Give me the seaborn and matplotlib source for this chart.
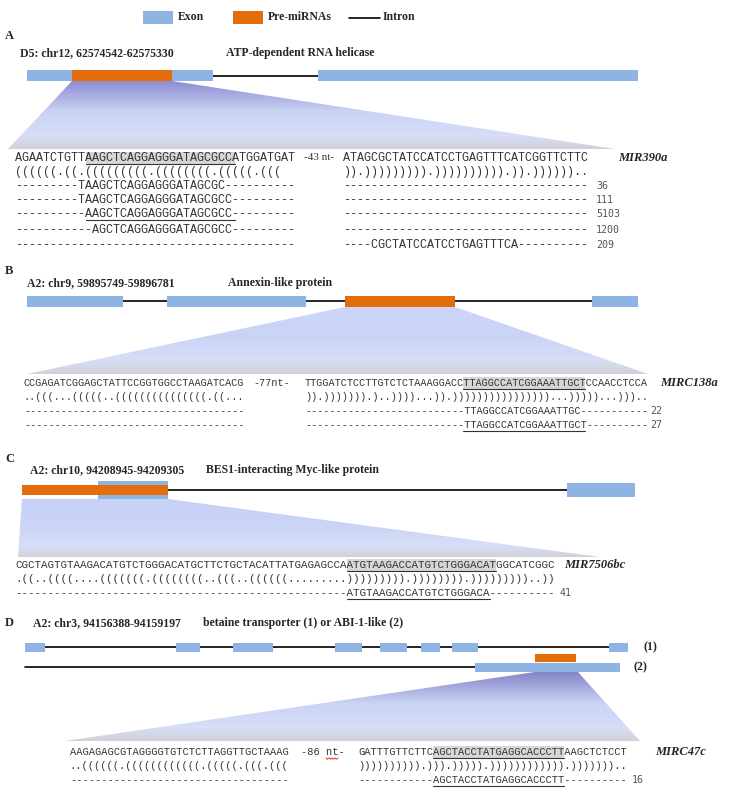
import numpy as np
import matplotlib
matplotlib.use("Agg")
import matplotlib.pyplot as plt
import seaborn as sns
from matplotlib.patches import Rectangle, Polygon
from matplotlib.colors import LinearSegmentedColormap

# ---------------- data ----------------
legend_labels = ["Exon", "Pre-miRNAs", "Intron"]

# panel A
a_title = "D5: chr12, 62574542-62575330"
a_gene = "ATP-dependent RNA helicase"
a_exons = [(27, 213), (318, 638)]
a_pre = [(72, 172)]
a_introns = [(213, 318)]
a_left = ["AGAATCTGTTAAGCTCAGGAGGGATAGCGCCATGGATGAT",
          "((((((.((.(((((((((.((((((((.(((((.(((",
          "---------TAAGCTCAGGAGGGATAGCGC----------",
          "---------TAAGCTCAGGAGGGATAGCGCC---------",
          "----------AAGCTCAGGAGGGATAGCGCC---------",
          "-----------AGCTCAGGAGGGATAGCGCC---------",
          "-" * 40]
a_right = ["ATAGCGCTATCCATCCTGAGTTTCATCGGTTCTTC",
           ")).)))))))))" ".))))))))))" ".))" ".))))))" "..",
           "-" * 35, "-" * 35, "-" * 35, "-" * 35,
           "----CGCTATCCATCCTGAGTTTCA----------"]
a_counts = ["", "", "36", "111", "5103", "1200", "209"]
a_gap = "-43 nt-"
a_name = "MIR390a"

# panel B
b_title = "A2: chr9, 59895749-59896781"
b_gene = "Annexin-like protein"
b_exons = [(27, 123), (167, 306), (592, 638)]
b_pre = [(345, 455)]
b_introns = [(123, 167), (306, 345), (455, 592)]
b_left = ["CCGAGATCGGAGCTATTCCGGTGGCCTAAGATCACG",
          "..(((...(((((..(((((((((((((((.((...",
          "-" * 36, "-" * 36]
b_right = ["TTGGATCTCCTTGTCTCTAAAGGACCTTAGGCCATCGGAAATTGCTCCAACCTCCA",
           ")).)))))))" ".)..))))...))." "))))))))))))))))" "...)))))" "...)))..",
           "--------------------------TTAGGCCATCGGAAATTGC-----------",
           "--------------------------TTAGGCCATCGGAAATTGCT----------"]
b_counts = ["", "", "22", "27"]
b_gap = "-77nt-"
b_name = "MIRC138a"

# panel C
c_title = "A2: chr10, 94208945-94209305"
c_gene = "BES1-interacting Myc-like protein"
c_exons = [(98, 168), (567, 635)]
c_pre = [(22, 168)]
c_introns = [(168, 567)]
c_rows = ["CGCTAGTGTAAGACATGTCTGGGACATGCTTCTGCTACATTATGAGAGCCAATGTAAGACCATGTCTGGGACATGGCATCGGC",
          ".((..((((....(((((((.((((((((..(((..((((((........"
          ".)))))))))" ".))))))))" ".)))))))))" "..))",
          "-" * 51 + "ATGTAAGACCATGTCTGGGACA" + "-" * 10]
c_counts = ["", "", "41"]
c_name = "MIR7506bc"

# panel D
d_title = "A2: chr3, 94156388-94159197"
d_gene = "betaine transporter (1) or ABI-1-like (2)"
d1_exons = [(25, 45), (176, 200), (233, 273), (335, 362), (380, 407),
            (421, 440), (452, 478), (609, 628)]
d1_introns = [(45, 609)]
d2_exons = [(475, 620)]
d2_introns = [(25, 475)]
d_pre = [(535, 576)]
d_left = ["AAGAGAGCGTAGGGGTGTCTCTTAGGTTGCTAAAG",
          "..((((((.((((((((((((.(((((.(((.(((",
          "-" * 35]
d_right = ["GATTTGTTCTTCAGCTACCTATGAGGCACCCTTAAGCTCTCCT",
           "))))))))))" ".)))" ".)))))" ".))))))))))))" ".)))))))" "..",
           "------------AGCTACCTATGAGGCACCCTT----------"]
d_counts = ["", "", "16"]
d_gap = "-86 nt-"
d_name = "MIRC47c"

# ---------------- style ----------------
sns.set_theme(style="white")
plt.rcParams["font.family"] = ["Liberation Serif", "DejaVu Serif"]

BLUE = "#8db4e2"
ORANGE = "#e46c0a"
MONO = "Liberation Mono"
SEQ_COL = "#333333"
HEAD_FS = 8.5

fig = plt.figure(figsize=(7.5, 7.98), dpi=100)
ax = fig.add_axes([0, 0, 1, 1])


def cw(fs):
    return 0.6 * fs * 100 / 72


def intron_lines(segs, y):
    for x0, x1 in segs:
        sns.lineplot(x=[x0, x1], y=[y, y], color="black", linewidth=1.2,
                     ax=ax, legend=False)


def blocks(segs, y, h, color, z=3):
    ax.broken_barh([(x0, x1 - x0) for x0, x1 in segs], (y - h / 2, h),
                   facecolors=color, edgecolors="none", zorder=z)


def funnel(top, bottom, y0, y1, top_col):
    cmap = LinearSegmentedColormap.from_list(
        "f", [(0, top_col), (0.45, (0.79, 0.83, 0.96)),
              (0.8, (0.84, 0.87, 0.97)), (1, (0.82, 0.82, 0.84))])
    xs = [top[0], top[1], bottom[1], bottom[0]]
    grad = np.linspace(0, 1, 256).reshape(-1, 1)
    im = ax.imshow(grad, cmap=cmap, aspect="auto", origin="upper",
                   extent=[min(xs), max(xs), y1, y0], zorder=1)
    poly = Polygon([(top[0], y0), (top[1], y0), (bottom[1], y1), (bottom[0], y1)],
                   closed=True, transform=ax.transData)
    im.set_clip_path(poly)


def seq_rows(x, ys, rows, fs, hl=None, ul=None, counts=None):
    w = cw(fs)
    for k, (y, s) in enumerate(zip(ys, rows)):
        ax.text(x, y, s, family=MONO, fontsize=fs, color=SEQ_COL,
                va="center", ha="left", zorder=4)
        if counts and counts[k]:
            ax.text(x + len(s) * w + 5, y, counts[k], family="DejaVu Sans Mono",
                    fontsize=7.2, color="#555555", va="center", zorder=4)
    if hl:
        r, i, n = hl
        ax.add_patch(Rectangle((x + i * w, ys[r] - 6.5), n * w, 12,
                               fc="#d6d6d6", ec="none", zorder=2))
    if ul:
        for r, i, n in ul:
            ax.plot([x + i * w, x + (i + n) * w], [ys[r] + 6, ys[r] + 6],
                    color="#333333", lw=0.8, zorder=4)


def header(letter, ly, title, tx, ty, gene, gx):
    ax.text(5, ly, letter, fontsize=9, fontweight="bold", va="center")
    ax.text(tx, ty, title, fontsize=HEAD_FS, fontweight="bold", va="center")
    ax.text(gx, ty, gene, fontsize=HEAD_FS, fontweight="bold", va="center")


def name(x, y, s):
    ax.text(x, y, s, fontsize=9, fontweight="bold", fontstyle="italic",
            va="center")


# ---------------- legend ----------------
ax.add_patch(Rectangle((143, 11), 30, 13, fc=BLUE, ec="none"))
ax.text(178, 17.5, legend_labels[0], fontsize=HEAD_FS, fontweight="bold", va="center")
ax.add_patch(Rectangle((233, 11), 30, 13, fc=ORANGE, ec="none"))
ax.text(268, 17.5, legend_labels[1], fontsize=HEAD_FS, fontweight="bold", va="center")
intron_lines([(349, 380)], 17.5)
ax.text(383, 17.5, legend_labels[2], fontsize=HEAD_FS, fontweight="bold", va="center")

# ---------------- panel A ----------------
header("A", 36, a_title, 20, 53, a_gene, 226)
intron_lines(a_introns, 75.5)
blocks(a_exons, 75.5, 11, BLUE)
blocks(a_pre, 75.5, 11, ORANGE, 4)
funnel((72, 172), (8, 615), 81, 149, (0.55, 0.55, 0.82))
ya = [158, 172, 186, 200, 214, 230, 245]
seq_rows(15, ya, a_left, 8.5, hl=(0, 10, 21), ul=[(0, 10, 21), (4, 10, 21)])
ax.text(304, ya[0], a_gap, fontsize=8, color=SEQ_COL, va="center")
seq_rows(343, ya, a_right, 8.5, counts=a_counts)
name(618, ya[0], a_name)

# ---------------- panel B ----------------
header("B", 271, b_title, 27, 283, b_gene, 228)
intron_lines(b_introns, 301)
blocks(b_exons, 301, 11, BLUE)
blocks(b_pre, 301, 11, ORANGE, 4)
funnel((345, 455), (27, 648), 307, 374, (0.80, 0.84, 0.98))
yb = [383, 397, 411, 425]
seq_rows(24, yb, b_left, 7.3)
ax.text(253, yb[0], b_gap, family=MONO, fontsize=7.3, color=SEQ_COL, va="center")
seq_rows(305, yb, b_right, 7.3, hl=(0, 26, 20), ul=[(0, 26, 20), (3, 26, 20)],
         counts=b_counts)
name(660, yb[0], b_name)

# ---------------- panel C ----------------
header("C", 459, c_title, 30, 470, c_gene, 206)
intron_lines(c_introns, 490)
blocks([c_exons[0]], 490, 18, BLUE)
blocks([c_exons[1]], 490, 14, BLUE)
blocks(c_pre, 490, 10, ORANGE, 4)
funnel((22, 168), (18, 600), 499, 557, (0.78, 0.82, 0.97))
yc = [565, 579, 593]
seq_rows(15, yc, c_rows, 7.8, hl=(0, 51, 23), ul=[(0, 51, 23), (2, 51, 22)],
         counts=c_counts)
name(564, yc[0], c_name)

# ---------------- panel D ----------------
ax.text(5, 623, "D", fontsize=9, fontweight="bold", va="center")
ax.text(33, 623, d_title, fontsize=HEAD_FS, fontweight="bold", va="center")
ax.text(203, 623, d_gene, fontsize=HEAD_FS, fontweight="bold", va="center")
intron_lines(d1_introns, 647)
blocks(d1_exons, 647, 9, BLUE)
blocks(d_pre, 647 + 11, 8, ORANGE)
intron_lines(d2_introns, 667)
blocks(d2_exons, 667, 9, BLUE)
ax.text(643, 647, "(1)", fontsize=HEAD_FS, fontweight="bold", va="center")
ax.text(633, 667, "(2)", fontsize=HEAD_FS, fontweight="bold", va="center")
funnel((535, 578), (65, 640), 672, 741, (0.52, 0.52, 0.78))
yd = [752, 766, 780]
seq_rows(70, yd, d_left, 7.5)
ax.text(301, yd[0], d_gap, family=MONO, fontsize=7.5, color=SEQ_COL, va="center")
# red spell-check squiggle under "nt"
sq_x = np.linspace(326, 338, 9)
ax.plot(sq_x, yd[0] + 6 + np.tile([0, 1.2], 5)[:9], color="#e03030", lw=0.7)
seq_rows(358, yd, d_right, 7.5, hl=(0, 12, 21), ul=[(0, 12, 21), (2, 12, 21)],
         counts=d_counts)
name(655, yd[0], d_name)

ax.set_xlim(0, 750)
ax.set_ylim(798, 0)
ax.set_xlabel("")
ax.set_ylabel("")
ax.axis("off")
fig.savefig("out.png", dpi=100, facecolor="white")
